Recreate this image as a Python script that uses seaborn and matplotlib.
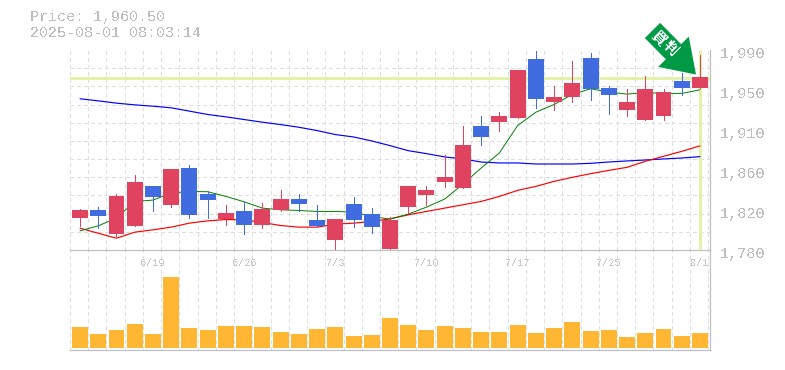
import numpy as np
import pandas as pd
import matplotlib
matplotlib.use('Agg')
import matplotlib.pyplot as plt
from matplotlib.patches import FancyArrow
from matplotlib.transforms import IdentityTransform, ScaledTranslation
import seaborn as sns

# prices
body_top = [1822.2, 1822.2, 1837.0, 1851.7, 1847.5, 1865.4, 1866.4, 1839.1, 1819.1, 1821.2, 1823.3, 1833.8, 1833.8, 1811.7, 1812.7, 1828.5, 1818.0, 1811.7,
            1847.5, 1843.3, 1857.0, 1890.7, 1910.7, 1920.2, 1968.6, 1980.2, 1940.2, 1954.9, 1981.2, 1949.6, 1935.9, 1948.6, 1945.4, 1957.0, 1961.2]
body_bot = [1813.8, 1815.9, 1796.9, 1805.4, 1835.9, 1827.5, 1816.9, 1832.8, 1812.7, 1806.4, 1806.4, 1822.2, 1828.5, 1805.4, 1790.6, 1811.7, 1804.3, 1781.2,
            1825.4, 1838.0, 1851.7, 1845.4, 1899.1, 1914.9, 1919.1, 1938.1, 1934.9, 1940.2, 1948.6, 1942.3, 1926.5, 1917.0, 1920.2, 1949.6, 1949.6]
wick_top = [1823.3, 1825.4, 1839.1, 1859.1, 1847.5, 1865.4, 1869.6, 1842.2, 1827.5, 1830.6, 1829.6, 1843.3, 1839.1, 1827.5, 1812.7, 1835.9, 1824.3, 1814.9,
            1847.5, 1847.5, 1880.1, 1910.7, 1920.2, 1925.4, 1968.6, 1988.6, 1951.7, 1978.1, 1986.5, 1951.7, 1948.6, 1962.3, 1948.6, 1965.4, 1984.4]
wick_bot = [1804.7, 1803.3, 1794.8, 1805.4, 1821.2, 1825.4, 1813.8, 1813.8, 1806.4, 1796.9, 1803.3, 1821.2, 1821.2, 1804.3, 1781.2, 1804.3, 1798.0, 1780.1,
            1819.1, 1827.5, 1846.4, 1845.4, 1890.7, 1905.4, 1919.1, 1928.6, 1926.5, 1935.9, 1937.0, 1923.3, 1921.2, 1917.0, 1917.0, 1942.3, 1949.6]
is_up = [1, 0, 1, 1, 0, 1, 0, 0, 1, 0, 1, 1, 0, 0, 1, 0, 0, 1,
         1, 1, 1, 1, 0, 1, 1, 0, 1, 1, 0, 0, 1, 1, 1, 0, 1]

ma_short = [1800.1, 1805.4, 1813.4, 1831.0, 1832.4, 1839.8, 1841.5, 1841.2, 1836.3, 1830.6, 1824.0, 1822.2, 1821.5, 1820.5, 1820.5, 1819.8, 1815.2, 1812.4,
            1817.7, 1825.0, 1833.5, 1849.2, 1866.1, 1881.9, 1910.7, 1924.7, 1932.8, 1943.3, 1949.3, 1945.8, 1943.7, 1945.4, 1944.4, 1944.4, 1948.2]
ma_mid = [1802.9, 1797.6, 1792.4, 1798.7, 1801.2, 1804.0, 1808.2, 1810.6, 1812.0, 1811.7, 1808.9, 1805.7, 1804.0, 1804.0, 1807.1, 1808.2, 1809.9, 1812.7,
          1816.9, 1820.5, 1824.0, 1827.5, 1831.0, 1836.3, 1842.6, 1846.8, 1852.1, 1856.3, 1860.1, 1863.6, 1866.8, 1873.1, 1878.4, 1883.6, 1889.3]
ma_long = [1938.8, 1936.6, 1934.2, 1932.4, 1931.0, 1929.3, 1925.8, 1922.3, 1919.8, 1917.0, 1914.2, 1911.7, 1908.9, 1905.4, 1901.2, 1898.7, 1894.5, 1889.6,
           1884.3, 1881.2, 1877.7, 1875.6, 1872.4, 1871.4, 1871.4, 1870.3, 1870.3, 1870.3, 1871.0, 1872.4, 1873.5, 1874.5, 1875.6, 1876.6, 1878.0]
volume = [63, 42, 54, 72, 42, 213, 60, 54, 66, 66, 63, 48, 42, 57, 63, 36, 39, 90,
          69, 54, 66, 60, 48, 48, 69, 45, 60, 78, 51, 54, 33, 45, 57, 36, 45]

tick_days = [4, 9, 14, 19, 24, 29, 34]
tick_names = ['6/19', '6/26', '7/3', '7/10', '7/17', '7/25', '8/1']
price_ticks = [1990, 1948, 1906, 1864, 1822, 1780]
price_names = ['1,990', '1,950', '1,910', '1,860', '1,820', '1,780']
last_price = 1960.5
title_lines = ['Price: 1,960.50', '2025-08-01 08:03:14']

RED = '#e0435f'
BLUE = '#416ce0'
LIME = '#e2f3a8'
GRAY = '#bdbdbd'
GRID = '#dedede'

sns.set_theme(style='white')
plt.rcParams['font.family'] = ['Liberation Mono', 'Noto Sans CJK JP', 'DejaVu Sans']
plt.rcParams['text.antialiased'] = False
plt.rcParams['patch.force_edgecolor'] = False

W, H = 785, 370
fig = plt.figure(figsize=(W / 100, H / 100), dpi=100)
ax = fig.add_axes([70 / W, 1 - 250 / H, 640 / W, 200 / H], zorder=2)
ax_vol = fig.add_axes([70 / W, 1 - 350 / H, 640 / W, 100 / H], zorder=1)
ax.patch.set_alpha(0)

days = np.arange(len(is_up))
xlim = (-0.55, 34.55)
grid_x = np.arange(xlim[0], xlim[1] + 0.01, 1.0)
grid_y = np.linspace(1780, 1990, 12)

for a in (ax, ax_vol):
    a.set_xlim(xlim)
    a.set_xticks(grid_x, minor=True)
    a.grid(True, which='minor', axis='x', color=GRID, lw=0.72, ls=(0, (3, 3)), antialiased=False)
    a.grid(False, which='major')
    a.set_axisbelow(True)
    a.tick_params(which='both', length=0)
    for side in ('top', 'left'):
        a.spines[side].set_visible(False)
    for side in ('bottom', 'right'):
        a.spines[side].set_color('#c0c0c0')
        a.spines[side].set_linewidth(0.9)

# price panel
ax.set_ylim(1780, 1990)
ax.set_yticks(grid_y, minor=True)
ax.grid(True, which='minor', axis='y', color=GRID, lw=0.72, ls=(0, (3, 3)), antialiased=False)
ax.axhline(last_price, color=LIME, lw=2.16, zorder=1.5)
ax.vlines(days[-1], 1781, 1990, color=LIME, lw=2.16, zorder=1.5)

# aliased sloped lines come out too heavy, so these stay smooth
ma = pd.DataFrame({'day': days, 'short': ma_short, 'mid': ma_mid, 'long': ma_long})
sns.lineplot(data=ma, x='day', y='long', color='#0000ff', lw=0.85, ax=ax, zorder=2)
sns.lineplot(data=ma, x='day', y='mid', color='#ff0000', lw=0.85, ax=ax, zorder=2)
sns.lineplot(data=ma, x='day', y='short', color='#008000', lw=0.7, ax=ax, zorder=2.5)

colors = [RED if u else BLUE for u in is_up]
ax.vlines(days, wick_bot, wick_top, colors=colors, lw=0.72, zorder=3, antialiased=False)
ax.bar(days, np.array(body_top) - np.array(body_bot), bottom=body_bot, width=0.877,
       color=colors, linewidth=0, zorder=3, antialiased=False)
ax.set_xlabel('')
ax.set_ylabel('')

ax.set_xticks(tick_days, tick_names, color='#c8c8c8', fontsize=7.4)
ax.tick_params(axis='x', pad=5.5)
ax.yaxis.tick_right()
ax.set_yticks(price_ticks, price_names, color=GRAY, fontsize=10.9)
ax.tick_params(axis='y', pad=7)
for lab in ax.get_yticklabels():
    lab.set_transform(lab.get_transform() + ScaledTranslation(0, -3 / 100, fig.dpi_scale_trans))

# volume panel
sns.barplot(x=days, y=volume, native_scale=True, width=0.877, color='#ffb733', saturation=1,
            ax=ax_vol, zorder=2, linewidth=0, antialiased=False)
ax_vol.set_xlim(xlim)
ax_vol.set_ylim(-6, 294)
ax_vol.set_yticks([])
ax_vol.set_xticks([])
ax_vol.set_xticks(grid_x, minor=True)
ax_vol.set_xlabel('')

# header
fig.text(30 / W, 1 - 17.5 / H, title_lines[0], color=GRAY, fontsize=10.8, va='center')
fig.text(30 / W, 1 - 33 / H, title_lines[1], color=GRAY, fontsize=10.8, va='center')

# signal arrow
arrow = FancyArrow(652.5, H - 30.5, 43.5, -44, width=21.5, head_width=43, head_length=32,
                   length_includes_head=True, color='#009944', lw=0,
                   transform=IdentityTransform(), zorder=5, clip_on=False)
fig.add_artist(arrow)
fig.text(659 / W, 1 - 38 / H, '買', color='white', fontsize=10.5, rotation=-45, weight='bold',
         ha='center', va='center', zorder=6)
fig.text(670 / W, 1 - 49 / H, '判', color='white', fontsize=10.5, rotation=-45, weight='bold',
         ha='center', va='center', zorder=6)

fig.savefig('out.png', dpi=100)
